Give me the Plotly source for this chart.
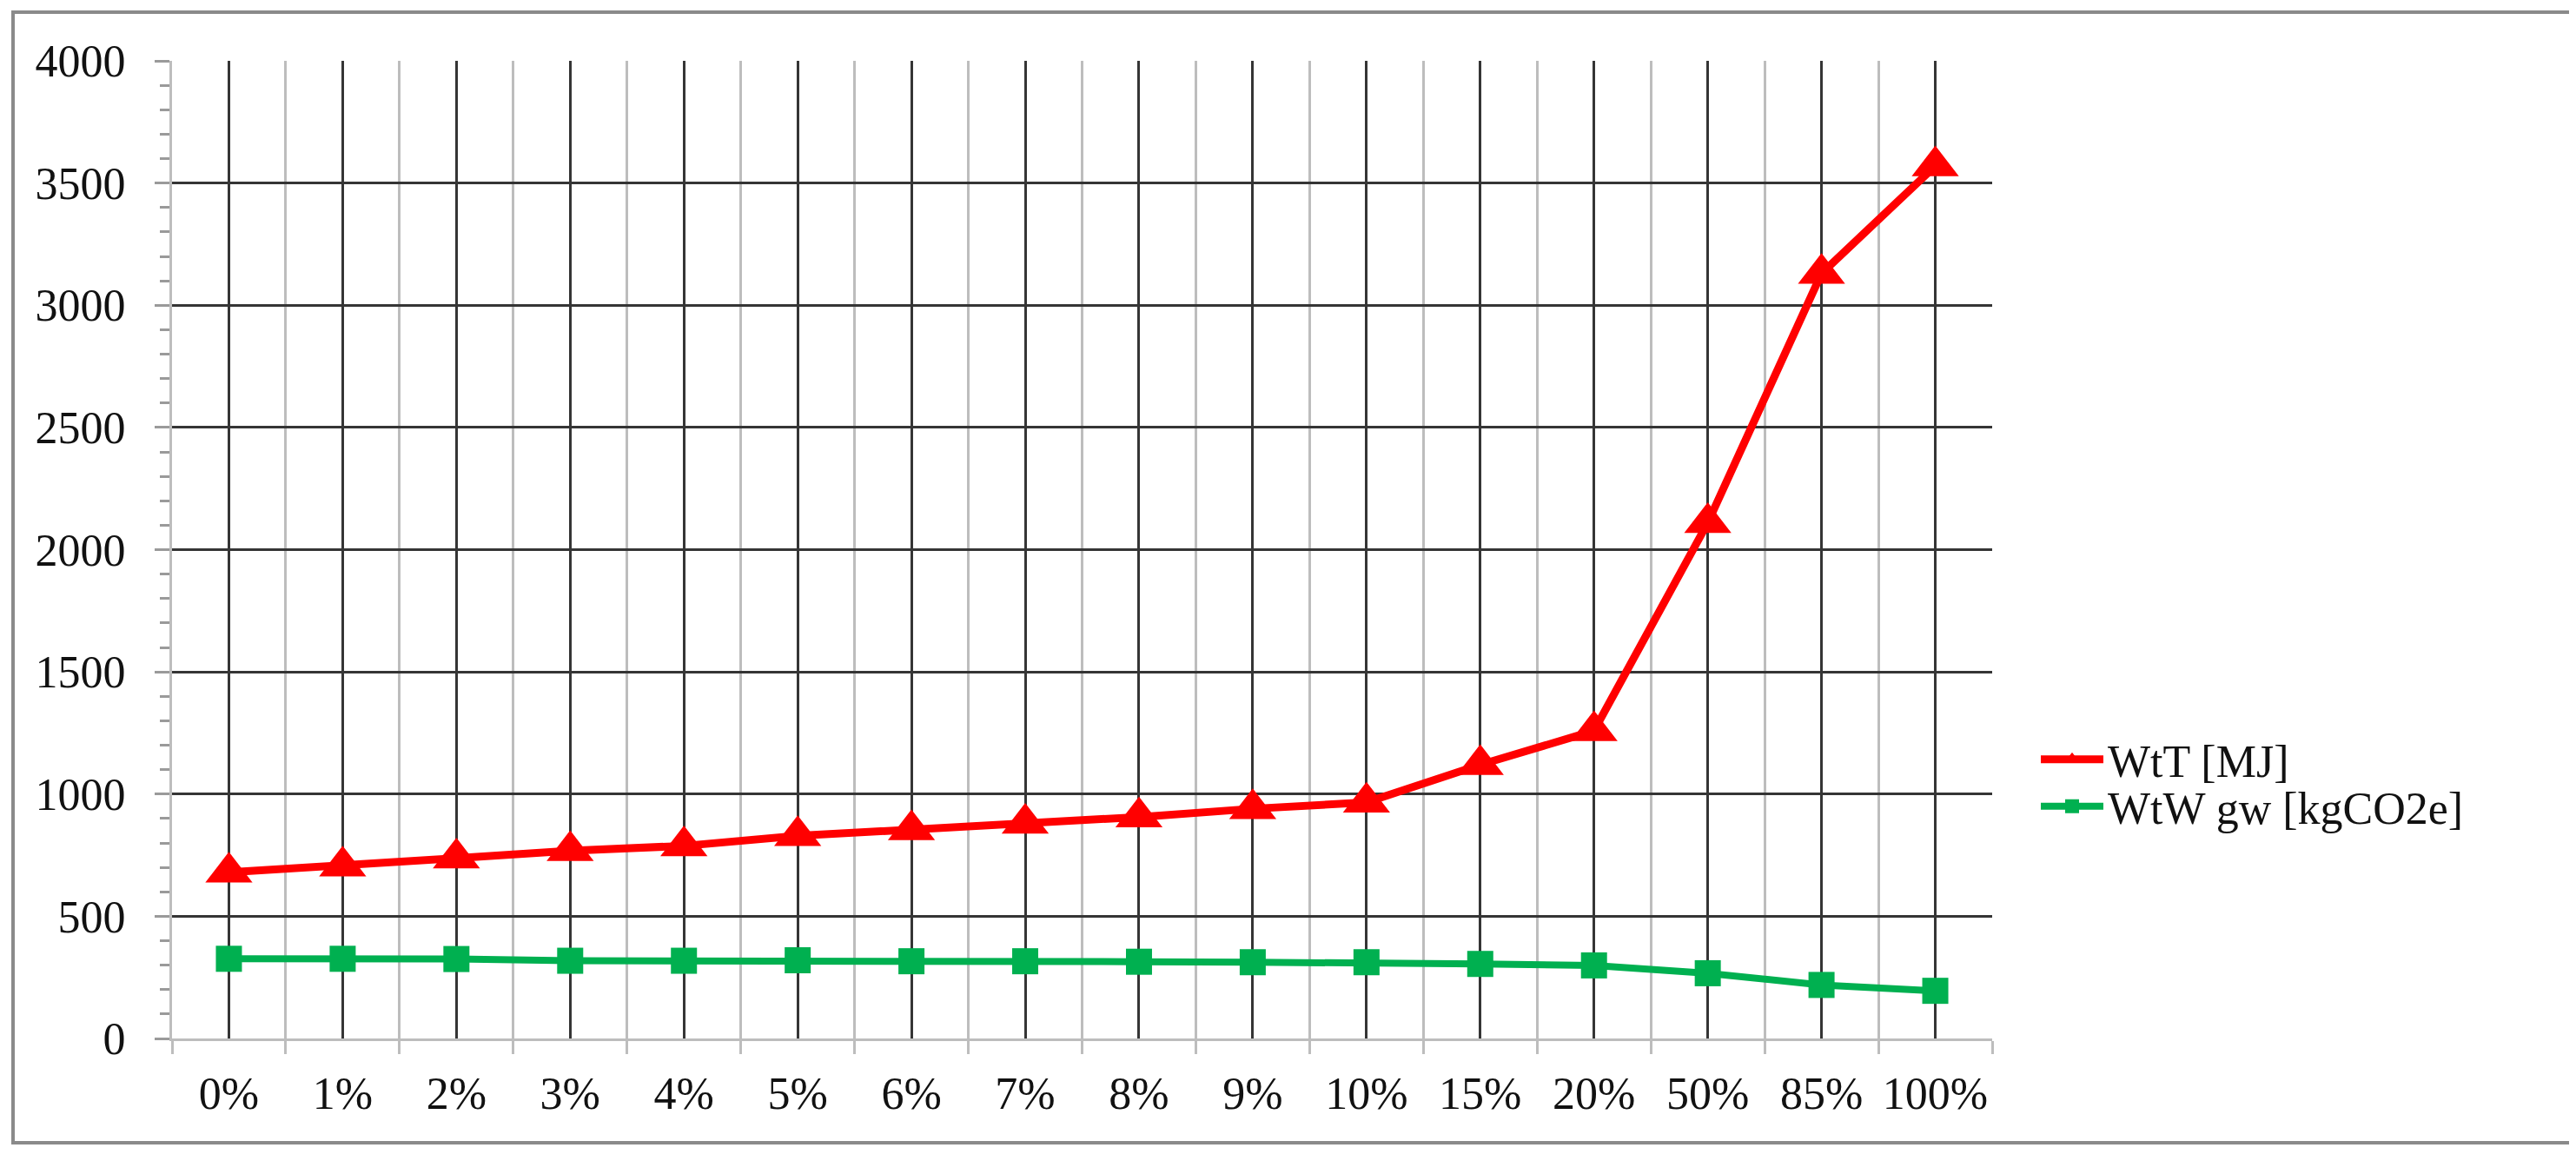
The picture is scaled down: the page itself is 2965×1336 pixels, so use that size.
import plotly.graph_objects as go

# shares along the x axis
shares = ["0%", "1%", "2%", "3%", "4%", "5%", "6%", "7%", "8%", "9%",
          "10%", "15%", "20%", "50%", "85%", "100%"]

# series values
wtt_mj = [680, 705, 738, 768, 788, 829, 853, 880, 906, 940,
          966, 1120, 1259, 2110, 3130, 3570]
wtw_kgco2e = [326, 326, 325, 318, 318, 320, 316, 316, 314, 312,
              312, 305, 299, 267, 219, 195]

x_idx = list(range(len(shares)))

FONT = "Liberation Serif, Times New Roman, serif"
DARK = "#353535"
LIGHT = "#bdbdbd"

# page body has an 8px margin, so the figure is 16px smaller than the window
W, H = 2957, 1328
L, R, T, B = 190, 672, 62, 141
pw, ph = W - L - R, H - T - B


def px_x(px):
    return (px - L) / pw


def px_y(py):
    return (T + ph - py) / ph


fig = go.Figure()

fig.add_trace(
    go.Scatter(
        x=x_idx,
        y=wtt_mj,
        mode="lines+markers",
        name="WtT [MJ]",
        line={"color": "#ff0000", "width": 9},
        marker={"symbol": "triangle-up", "size": 47, "color": "#ff0000"},
        legend="legend",
    )
)
fig.add_trace(
    go.Scatter(
        x=x_idx,
        y=wtw_kgco2e,
        mode="lines+markers",
        name="WtW gw [kgCO2e]",
        line={"color": "#00b050", "width": 8},
        marker={"symbol": "square", "size": 30, "color": "#00b050"},
        legend="legend2",
    )
)

# outer chart frame
fig.add_shape(
    type="rect",
    xref="paper",
    yref="paper",
    x0=px_x(7),
    x1=px_x(2954),
    y0=px_y(1307),
    y1=px_y(6),
    line={"color": "#8a8a8a", "width": 4},
    layer="below",
)

legend_style = {
    "xanchor": "left",
    "yanchor": "middle",
    "font": {"family": FONT, "size": 52, "color": "#111"},
    "itemwidth": 72,
    "bgcolor": "rgba(0,0,0,0)",
}

fig.update_layout(
    width=W,
    height=H,
    margin={"l": L, "r": R, "t": T, "b": B},
    paper_bgcolor="white",
    plot_bgcolor="white",
    font={"family": FONT, "size": 52, "color": "#111"},
    showlegend=True,
    legend={**legend_style, "x": px_x(2336), "y": px_y(866)},
    legend2={**legend_style, "x": px_x(2336), "y": px_y(920)},
    xaxis={
        "range": [-0.5, len(shares) - 0.5],
        "tickmode": "array",
        "tickvals": x_idx,
        "ticktext": shares,
        "ticks": "",
        "ticklabelstandoff": 16,
        "showgrid": True,
        "gridcolor": DARK,
        "gridwidth": 3,
        "showline": True,
        "linecolor": LIGHT,
        "linewidth": 3,
        "zeroline": False,
        "minor": {
            "tick0": 0.5,
            "dtick": 1,
            "ticks": "outside",
            "ticklen": 15,
            "tickwidth": 3,
            "tickcolor": LIGHT,
            "showgrid": True,
            "gridcolor": LIGHT,
            "gridwidth": 3,
        },
        "fixedrange": True,
    },
    yaxis={
        "range": [0, 4000],
        "tick0": 0,
        "dtick": 500,
        "ticks": "outside",
        "ticklen": 17,
        "tickwidth": 3,
        "tickcolor": "#9a9a9a",
        "ticklabelstandoff": 23,
        "showgrid": True,
        "gridcolor": DARK,
        "gridwidth": 3,
        "showline": True,
        "linecolor": LIGHT,
        "linewidth": 3,
        "zeroline": False,
        "minor": {
            "dtick": 100,
            "ticks": "outside",
            "ticklen": 11,
            "tickwidth": 3,
            "tickcolor": "#9a9a9a",
            "showgrid": False,
        },
        "fixedrange": True,
    },
)

fig.write_html("out.html")
